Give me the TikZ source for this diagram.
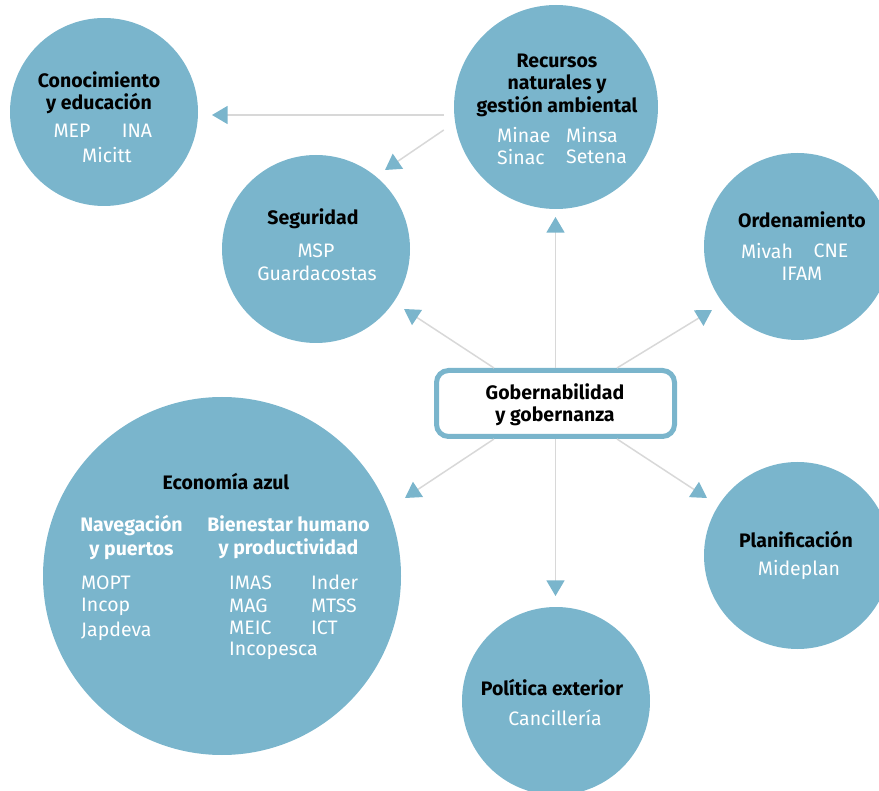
\documentclass[tikz,border=0pt]{standalone}
\usepackage{fontspec}
\setmainfont{Fira Sans}
\usepackage{tikz}
\usetikzlibrary{arrows.meta}

\definecolor{areablue}{HTML}{7AB5CC}
\definecolor{linkgray}{HTML}{D8D8D8}

\begin{document}
\begin{tikzpicture}[x=1pt,y=-1pt]
  \tikzset{area/.style = {shape=circle,fill=areablue,inner sep=0pt}}
  \tikzset{title/.style = {align=center,inner sep=0pt,text=black,font=\bfseries\fontsize{19.5}{22.5}\selectfont}}
  \tikzset{sub/.style = {title,text=white,font=\bfseries\fontsize{19.5}{23.5}\selectfont}}
  \tikzset{inst/.style = {inner sep=0pt,text=white,font=\fontsize{19.5}{22}\selectfont}}
  \tikzset{link/.style = {draw=linkgray,line width=1.5pt,-{Triangle[length=15.6pt,width=18pt,color=areablue]}}}

  \useasboundingbox (0,0) rectangle (879,791);
  \clip (0,0) rectangle (879,791);

	% circles
	\node[area,minimum size=188pt] (con) at (104,112) {};
	\node[area,minimum size=204pt] (rec) at (556,107) {};
	\node[area,minimum size=188pt] (seg) at (316,249) {};
	\node[area,minimum size=187pt] (ord) at (797.5,246.5) {};
	\node[area,minimum size=358pt] (eco) at (222,576) {};
	\node[area,minimum size=187pt] (pla) at (797.5,555.5) {};
	\node[area,minimum size=188pt] (pol) at (556,701) {};

	% center box
	\node[draw=areablue,line width=5pt,fill=white,rounded corners=12pt,
	      minimum width=238pt,minimum height=66pt] (gob) at (555.5,403.5) {};
	\node[title] (gobt) at (555,405) {Gobernabilidad\\y gobernanza};

	% arrow ends
	\coordinate (trec) at (555.5,217);
	\coordinate (tseg) at (404,309);
	\coordinate (tord) at (712,310);
	\coordinate (teco) at (405,498);
	\coordinate (tpla) at (707,498);
	\coordinate (tpol) at (555.5,596);
	\coordinate (tcon) at (212,115);
	\coordinate (tsegb) at (385,170);

	\foreach \ang/\tip in {90/trec,150/tseg,30/tord,210/teco,330/tpla,270/tpol}
	  \draw[link] (gob.\ang) -- (\tip);
	\draw[link] ([shift={(-10pt,-8pt)}]rec.west) -- (tcon);
	\draw[link] ([shift={(-10pt,-23pt)}]rec.west) -- (tsegb);

	% texts
	\node[title] (cont) at (99,93) {Conocimiento\\y educaci\'on};
	\node[inst] (mep) at (72,131) {MEP};
	\node[inst] (ina) at (137,131) {INA};
	\node[inst] (micitt) at (107,155) {Micitt};

	\node[title] (rect) at (557,85) {Recursos\\naturales y\\gesti\'on ambiental};
	\node[inst,anchor=west] (minae) at (497,135) {Minae};
	\node[inst,anchor=west] (minsa) at (566,135) {Minsa};
	\node[inst,anchor=west] (sinac) at (497,157) {Sinac};
	\node[inst,anchor=west] (setena) at (566,157) {Setena};

	\node[title] (segt) at (313,219) {Seguridad};
	\node[inst] (msp) at (316,251) {MSP};
	\node[inst] (guard) at (317,273) {Guardacostas};

	\node[title] (ordt) at (802,220) {Ordenamiento};
	\node[inst] (mivah) at (767,251) {Mivah};
	\node[inst] (cne) at (831,251) {CNE};
	\node[inst] (ifam) at (802,274) {IFAM};

	\node[title] (ecot) at (226,481.5) {Econom\'ia azul};
	\node[sub] (nav) at (131.5,537.5) {Navegaci\'on\\y puertos};
	\node[sub] (bien) at (288.5,537.5) {Bienestar humano\\y productividad};
	\node[inst,anchor=west] (mopt) at (81,582.5) {MOPT};
	\node[inst,anchor=west] (incop) at (81,606.5) {Incop};
	\node[inst,anchor=west] (japdeva) at (81,631.5) {Japdeva};
	\node[inst,anchor=west] (imas) at (229,582.5) {IMAS};
	\node[inst,anchor=west] (mag) at (229,605.5) {MAG};
	\node[inst,anchor=west] (meic) at (229,627.5) {MEIC};
	\node[inst,anchor=west] (incopesca) at (229,651) {Incopesca};
	\node[inst,anchor=west] (inder) at (311,582.5) {Inder};
	\node[inst,anchor=west] (mtss) at (311,605.5) {MTSS};
	\node[inst,anchor=west] (ict) at (311,627.5) {ICT};

	\node[title] (plat) at (796,540) {Planificaci\'on};
	\node[inst] (mideplan) at (799,570) {Mideplan};

	\node[title] (polt) at (552,687.5) {Pol\'itica exterior};
	\node[inst] (canci) at (555,717.5) {Canciller\'ia};
\end{tikzpicture}
\end{document}
